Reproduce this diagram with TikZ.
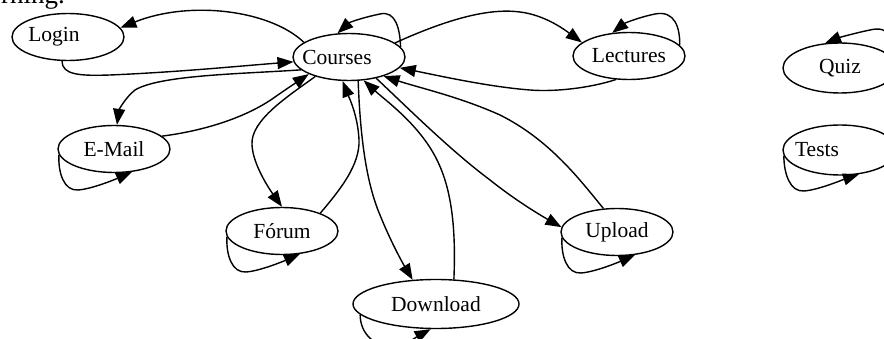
\documentclass[tikz,border=0pt]{standalone}
\usepackage{fontspec}
\setmainfont{Liberation Serif}
\usetikzlibrary{shapes.geometric,arrows.meta,calc}
\begin{document}
\begin{tikzpicture}[x=1pt,y=-1pt,
  st/.style={draw,ellipse,line width=1.4pt,inner sep=0pt,minimum width=112pt,minimum height=47pt,font=\fontsize{21.5}{25}\selectfont},
  ed/.style={line width=1.4pt,-{Triangle[length=16pt,width=12pt]}},
  txt/.style={font=\fontsize{27}{30}\selectfont,inner sep=0pt}]
\useasboundingbox (0,0) rectangle (884,339);
\clip (0,0) rectangle (884,339);
\node[txt,anchor=base east] (head) at (65,4) {rning.};
\node[st] (Login) at (68,37) {\makebox[0pt]{Login\hspace*{28pt}}};
\node[st] (Courses) at (349,57) {\makebox[0pt]{Courses\hspace*{24pt}}};
\node[st] (Lectures) at (629,56) {Lectures};
\node[st,minimum width=114pt,minimum height=50pt] (Quiz) at (840,68) {Quiz};
\node[st,minimum width=114pt,minimum height=50pt] (Tests) at (840,150) {\makebox[0pt]{Tests\hspace*{46pt}}};
\node[st] (EMail) at (114,149) {E-Mail};
\node[st] (Forum) at (282,231) {Fórum};
\node[st,minimum width=166pt,minimum height=49pt] (Download) at (436,304) {Download};
\node[st] (Upload) at (617,232) {Upload};
% Courses <-> Login
\draw[ed] (Courses.162.7) .. controls (270,10) and (190,0) .. (Login.10.7);
\draw[ed] (Login.256) .. controls (62,75) and (80,76) .. (110,75) .. controls (180,72) and (240,66) .. (Courses.185);
% Courses loop
\draw[ed] (Courses.11) .. controls (400,30) and (396,10) .. (380,14) .. controls (365,17) and (350,22) .. (Courses.116);
% Courses <-> Lectures
\draw[ed] (Courses.17) .. controls (450,18) and (490,8) .. (520,12) .. controls (545,15) and (565,30) .. (Lectures.164);
\draw[ed] (Lectures.241) .. controls (590,88) and (555,92) .. (530,90) .. controls (490,87) and (440,76) .. (Courses.348);
\draw[ed] (Lectures.12) .. controls (680,28) and (675,10) .. (655,14) .. controls (640,17) and (625,23) .. (Lectures.126);
% Courses <-> E-Mail
\draw[ed] (Courses.195) .. controls (240,74) and (160,75) .. (135,90) .. controls (125,98) and (119,110) .. (EMail.83);
\draw[ed] (EMail.15) .. controls (210,130) and (250,115) .. (275,97) .. controls (285,90) and (297,82) .. (Courses.203);
% Courses <-> Forum
\draw[ed] (Courses.210) .. controls (290,95) and (250,120) .. (252,145) .. controls (253,165) and (270,190) .. (Forum.90);
\draw[ed] (Forum.25) .. controls (340,190) and (360,165) .. (359,140) .. controls (358,115) and (348,95) .. (Courses.255);
% Courses <-> Download
\draw[ed] (Courses.291) .. controls (360,130) and (365,180) .. (380,215) .. controls (390,240) and (402,262) .. (Download.134);
\draw[ed] (Download.54) .. controls (456,230) and (452,190) .. (437,160) .. controls (420,125) and (385,100) .. (Courses.302);
% Courses <-> Upload
\draw[ed] (Courses.322) .. controls (410,110) and (450,150) .. (490,180) .. controls (515,200) and (540,215) .. (Upload.175);
\draw[ed] (Upload.120) .. controls (580,180) and (550,140) .. (500,115) .. controls (460,97) and (420,88) .. (Courses.331);
% bottom self loops
\foreach \n in {EMail,Forum,Upload,Tests}
  \draw[ed] (\n.186) .. controls ($(\n)+(-56,24)$) and ($(\n)+(-50,42)$) .. ($(\n)+(-36,41)$) .. controls ($(\n)+(-22,40)$) and ($(\n)+(2,30)$) .. (\n.308);
\draw[ed] (Download.188) .. controls ($(Download)+(-76,30)$) and ($(Download)+(-60,45)$) .. ($(Download)+(-40,42)$) .. controls ($(Download)+(-28,40)$) and ($(Download)+(-18,32)$) .. (Download.258);
% Quiz loop
\draw[ed] (Quiz.10) .. controls (895,40) and (890,25) .. (870,30) .. controls (855,33) and (838,38) .. (Quiz.121);
\end{tikzpicture}
\end{document}
